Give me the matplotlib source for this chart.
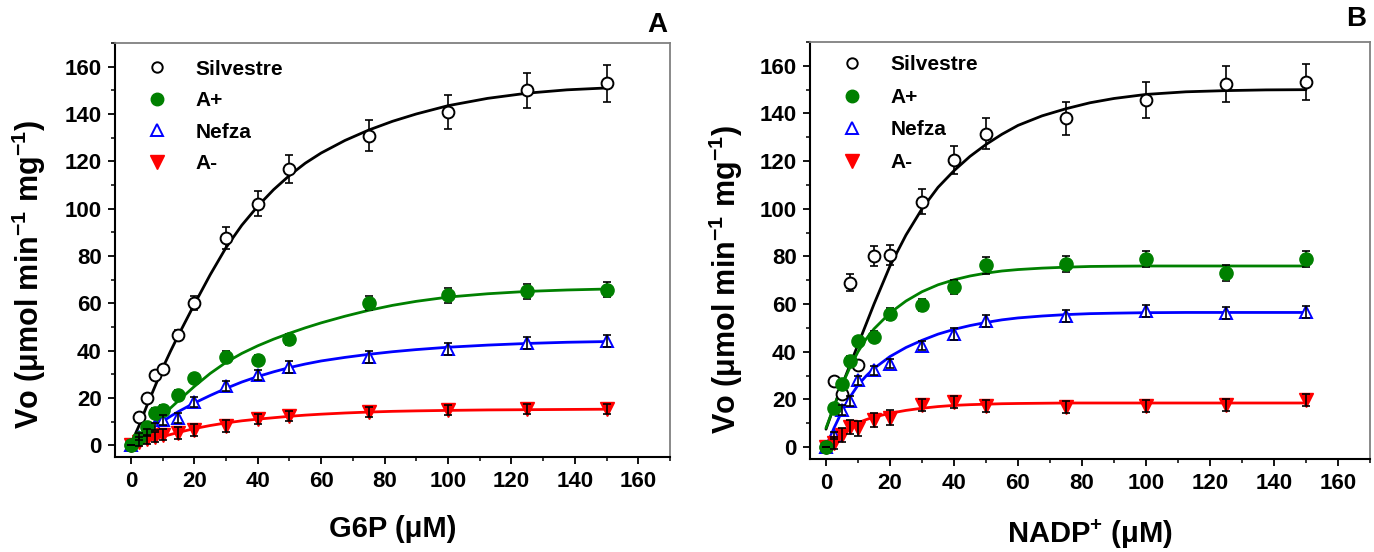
import matplotlib
matplotlib.use("Agg")
import matplotlib.pyplot as plt
from matplotlib.lines import Line2D
from matplotlib.ticker import MultipleLocator

plt.rcParams['font.family'] = ['Liberation Sans', 'DejaVu Sans']
plt.rcParams['font.weight'] = 'bold'
plt.rcParams['mathtext.fontset'] = 'custom'
plt.rcParams['mathtext.rm'] = 'Liberation Sans:bold'
plt.rcParams['mathtext.bf'] = 'Liberation Sans:bold'
plt.rcParams['mathtext.it'] = 'Liberation Sans:bold'
plt.rcParams['mathtext.default'] = 'rm'

# ---- substrate concentrations (µM) ----
conc = [0, 2.5, 5, 7.5, 10, 15, 20, 30, 40, 50, 75, 100, 125, 150]
fit_x = [0, 2.5, 5, 7.5, 10, 12.5, 15, 20, 25, 30, 35, 40, 45, 50, 55, 60,
         67.5, 75, 82.5, 90, 100, 112.5, 125, 137.5, 150]

series_names = ["Silvestre", "A+", "Nefza", "A-"]

# ---- Panel A: G6P ----
g6p_silvestre = [0, 12, 20, 29.5, 32, 46.6, 60.2, 87.5, 102, 116.7, 130.8, 141, 150, 153]
g6p_silvestre_err = [0, 1.5, 1.5, 1.8, 2, 2.2, 3, 4.6, 5.3, 5.9, 6.6, 7.2, 7.5, 7.8]
g6p_aplus = [0, 3, 7.7, 13.7, 14.8, 21.2, 28.2, 37.4, 36, 44.7, 60.2, 63.4, 65, 65.8]
g6p_aplus_err = [0, 1.5, 1.5, 2, 2, 2, 2, 2.2, 2, 2.5, 3, 3.2, 3.2, 3.2]
g6p_nefza = [0, 3.5, 5.5, 8, 10.6, 11.4, 18.2, 25, 29.6, 33.1, 37.4, 40.6, 43.2, 44]
g6p_nefza_err = [0, 1.5, 1.5, 1.5, 2, 2, 2, 2.2, 2.2, 2.5, 2.5, 2.5, 2.5, 2.5]
g6p_aminus = [0, 1.5, 2.5, 3.5, 4.5, 5, 6.3, 8.2, 11, 12.3, 14, 14.8, 15.2, 15.2]
g6p_aminus_err = [0, 2, 2, 2, 2.5, 2.5, 2.5, 2.5, 2, 2, 2, 2, 2, 2]

g6p_fit_silvestre = [0.5, 8, 16.5, 24.5, 32.5, 39.7, 46.5, 59.5, 72, 83.5, 93, 101, 108,
                     114, 119.2, 123.5, 128.8, 133.2, 136.9, 140, 143.5, 146.6, 148.8,
                     150.2, 151]
g6p_fit_aplus = [0, 2.5, 5.8, 9.2, 12.5, 15.7, 18.8, 24.8, 30.3, 35, 38.8, 42, 44.8,
                 47.3, 49.6, 51.7, 54.5, 57, 59.1, 60.8, 62.6, 64, 65, 65.6, 66]
g6p_fit_nefza = [0, 2.4, 5, 7.6, 10, 12.2, 14.2, 17.8, 21, 24, 26.7, 29, 31, 32.8, 34.3,
                 35.6, 37.1, 38.4, 39.5, 40.4, 41.4, 42.3, 43, 43.5, 43.8]
g6p_fit_aminus = [0, 0.8, 1.8, 2.7, 3.6, 4.5, 5.4, 7, 8.3, 9.4, 10.3, 11, 11.6, 12.2,
                  12.7, 13.1, 13.6, 14, 14.3, 14.5, 14.7, 14.9, 15, 15.1, 15.2]

# ---- Panel B: NADP+ ----
nadp_silvestre = [0, 27.6, 22.4, 69, 34.5, 80.2, 80.6, 103, 120.5, 131.5, 138, 145.8, 152.5, 153.2]
nadp_silvestre_err = [0, 1.5, 1.5, 3.6, 1.5, 4.2, 4.1, 5.2, 6, 6.5, 7, 7.5, 7.5, 7.5]
nadp_aplus = [0, 16.2, 26.3, 36.3, 44.4, 46.4, 55.8, 59.6, 67.2, 76.3, 76.9, 78.9, 73, 79]
nadp_aplus_err = [0, 2, 2, 2, 2, 2.5, 2.5, 2.5, 3, 3.5, 3.5, 3.5, 3.5, 3.5]
nadp_nefza = [0, 5, 15.5, 19.3, 28, 32.2, 35, 42.6, 47.5, 53, 55, 57.2, 56.4, 56.8]
nadp_nefza_err = [0, 1.5, 2, 2, 2, 2, 2, 2, 2.5, 2.5, 2.5, 2.5, 2.5, 2.5]
nadp_aminus = [0, 1.7, 5, 8.5, 7.8, 11.3, 12.4, 17.5, 18.9, 17.1, 16.7, 17.1, 17.5, 19.6]
nadp_aminus_err = [0, 2.5, 3, 3, 3, 3, 3, 2.5, 2.5, 2.5, 2.5, 2.5, 2.5, 2.5]

nadp_fit_silvestre = [7.5, 17, 26, 34.5, 43, 51.5, 60, 76, 89, 100, 109, 116, 122, 127,
                      131.3, 135, 139, 142, 144.5, 146.3, 148, 149.1, 149.6, 149.9, 150]
nadp_fit_aplus = [8, 17, 26, 33.5, 40, 45.3, 49.6, 56.3, 61.3, 65.2, 68.1, 70.2, 71.8, 73,
                  73.9, 74.5, 75.1, 75.5, 75.8, 75.9, 76, 76, 76, 76, 76]
nadp_fit_nefza = [0, 8, 15, 21, 26, 29.8, 33, 38, 41.8, 44.8, 47.4, 49.4, 51, 52.3, 53.4,
                  54.2, 55, 55.6, 56, 56.2, 56.4, 56.5, 56.5, 56.5, 56.5]
nadp_fit_aminus = [0, 3.2, 6.1, 8.4, 10.2, 11.5, 12.6, 14.2, 15.4, 16.3, 17, 17.5, 17.8, 18,
                   18.2, 18.3, 18.4, 18.5, 18.5, 18.5, 18.5, 18.5, 18.5, 18.5, 18.5]

colors = ["black", "#008000", "#0000ff", "#ff0000"]
marker_styles = [
    dict(marker='o', ms=8.5, mfc='white', mec='black', mew=1.4),
    dict(marker='o', ms=9.5, mfc='#008000', mec='#008000', mew=1.0),
    dict(marker='^', ms=9, mfc='white', mec='#0000ff', mew=1.4),
    dict(marker='v', ms=9.5, mfc='#ff0000', mec='#ff0000', mew=1.0),
]
# circles sit above their error bars, triangles below
bars_on_top = [False, False, True, True]

fig = plt.figure(figsize=(13.74, 5.52), dpi=100)
axA = fig.add_axes([115 / 1374, 1 - 457 / 552, 555 / 1374, 414 / 552])
axB = fig.add_axes([810 / 1374, 1 - 459 / 552, 560 / 1374, 417 / 552])


def draw_panel(ax, values, errors, fits, xlabel, xlabel_y, letter, ylabel_pos,
               legend_anchor, legend_spacing):
    for i in range(4):
        ax.plot(fit_x, fits[i], color=colors[i], lw=2.0, zorder=2,
                solid_capstyle='round', solid_joinstyle='round')
    for i in range(4):
        z_m = 4 if not bars_on_top[i] else 3
        z_e = 3 if not bars_on_top[i] else 5
        ax.errorbar(conc, values[i], yerr=errors[i], fmt='none', ecolor='black',
                    elinewidth=1.2, capsize=3, capthick=1.2, zorder=z_e)
        ax.plot(conc, values[i], ls='none', zorder=z_m, **marker_styles[i])

    ax.set_xlim(-5, 170)
    ax.set_ylim(-5, 170)
    ax.xaxis.set_major_locator(MultipleLocator(20))
    ax.xaxis.set_minor_locator(MultipleLocator(10))
    ax.yaxis.set_major_locator(MultipleLocator(20))
    ax.yaxis.set_minor_locator(MultipleLocator(10))
    ax.tick_params(which='major', direction='out', length=5, width=1.3,
                   labelsize=16, top=False, right=False)
    ax.tick_params(axis='x', which='major', pad=5)
    ax.tick_params(axis='y', which='major', pad=4.5)
    ax.tick_params(which='minor', direction='out', length=3, width=1.1,
                   top=False, right=False)
    for lab in ax.get_xticklabels() + ax.get_yticklabels():
        lab.set_fontweight('bold')
    for s in ['left', 'bottom']:
        ax.spines[s].set_color('black')
        ax.spines[s].set_linewidth(1.5)
    for s in ['top', 'right']:
        ax.spines[s].set_color('#808080')
        ax.spines[s].set_linewidth(1.3)

    ax.set_xlabel(xlabel, fontsize=21, fontweight='bold')
    ax.xaxis.set_label_coords(0.5, xlabel_y)
    ax.set_ylabel(r'Vo (μmol min$^{-1}$ mg$^{-1}$)', fontsize=22,
                  fontweight='bold')
    ax.yaxis.set_label_coords(*ylabel_pos)

    handles = [Line2D([], [], ls='none', **marker_styles[i]) for i in range(4)]
    handles[0].set_markersize(7.5)
    handles[1].set_markersize(9)
    ax.legend(handles, series_names, loc='upper left',
              bbox_to_anchor=legend_anchor, frameon=False,
              prop=dict(weight='bold', size=15), handlelength=1.0,
              handletextpad=1.33, labelspacing=legend_spacing, borderpad=0,
              borderaxespad=0)
    ax.text(letter[1], letter[2], letter[0], transform=fig.transFigure,
            fontsize=20, fontweight='bold', ha='center', va='center')


draw_panel(axA,
           [g6p_silvestre, g6p_aplus, g6p_nefza, g6p_aminus],
           [g6p_silvestre_err, g6p_aplus_err, g6p_nefza_err, g6p_aminus_err],
           [g6p_fit_silvestre, g6p_fit_aplus, g6p_fit_nefza, g6p_fit_aminus],
           'G6P (μM)', -0.14, ('A', 657 / 1374, 1 - 25 / 552), (-0.121, 0.44),
           (0.057, 0.960), 0.6)
draw_panel(axB,
           [nadp_silvestre, nadp_aplus, nadp_nefza, nadp_aminus],
           [nadp_silvestre_err, nadp_aplus_err, nadp_nefza_err, nadp_aminus_err],
           [nadp_fit_silvestre, nadp_fit_aplus, nadp_fit_nefza, nadp_fit_aminus],
           r'NADP$^{+}$ (μM)', -0.14, ('B', 1356 / 1374, 1 - 19 / 552),
           (-0.116, 0.43), (0.0564, 0.968), 0.65)

fig.savefig('out.png', dpi=100)
